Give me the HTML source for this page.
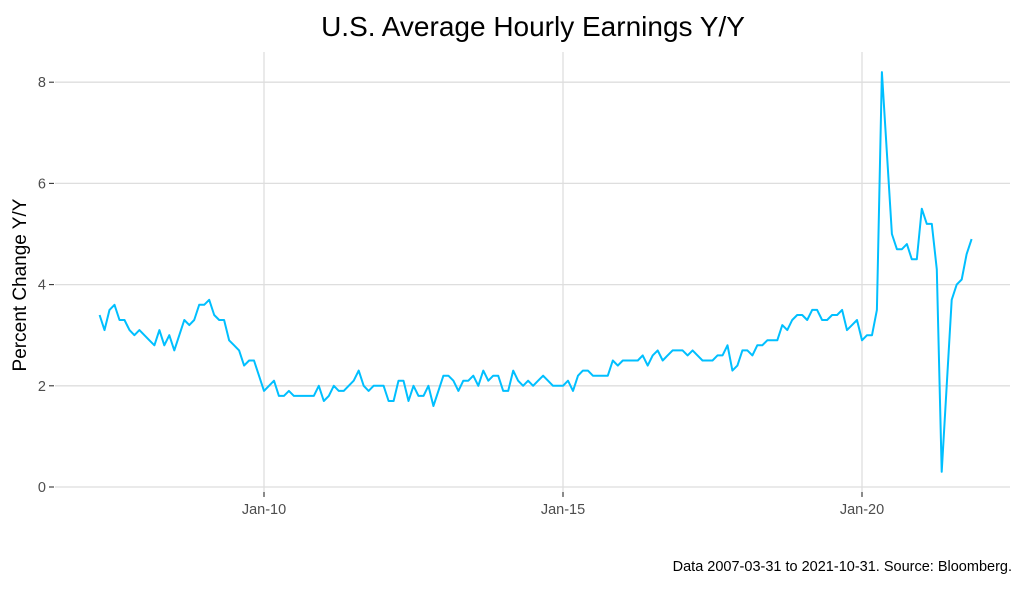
<!DOCTYPE html>
<html><head><meta charset="utf-8"><style>
body{margin:0;background:#fff;font-family:"Liberation Sans",sans-serif;}
svg text{font-family:"Liberation Sans",sans-serif;}
</style></head><body>
<svg id="chart" width="1024" height="585" xmlns="http://www.w3.org/2000/svg">
<text x="533" y="36" text-anchor="middle" font-size="28" fill="#000">U.S. Average Hourly Earnings Y/Y</text>
<text transform="translate(26,285) rotate(-90)" text-anchor="middle" font-size="19" fill="#000">Percent Change Y/Y</text>
<text x="1012" y="571" text-anchor="end" font-size="14.5" fill="#000">Data 2007-03-31 to 2021-10-31.  Source: Bloomberg.</text>
<g id="grid"></g><g id="axes"></g><g id="series"></g>
</svg>
<script>
const startYear = 2007.25;
const values = [3.4,3.1,3.5,3.6,3.3,3.3,3.1,3.0,3.1,3.0,2.9,2.8,3.1,2.8,3.0,2.7,3.0,3.3,3.2,3.3,3.6,3.6,3.7,3.4,3.3,3.3,2.9,2.8,2.7,2.4,2.5,2.5,2.2,1.9,2.0,2.1,1.8,1.8,1.9,1.8,1.8,1.8,1.8,1.8,2.0,1.7,1.8,2.0,
1.9,1.9,2.0,2.1,2.3,2.0,1.9,2.0,2.0,2.0,1.7,1.7,2.1,2.1,1.7,2.0,1.8,1.8,2.0,1.6,1.9,2.2,2.2,2.1,1.9,2.1,2.1,2.2,2.0,2.3,2.1,2.2,2.2,1.9,1.9,2.3,2.1,2.0,2.1,2.0,2.1,2.2,2.1,2.0,2.0,2.0,2.1,1.9,2.2,2.3,2.3,2.2,2.2,
2.2,2.2,2.5,2.4,2.5,2.5,2.5,2.5,2.6,2.4,2.6,2.7,2.5,2.6,2.7,2.7,2.7,2.6,2.7,2.6,2.5,2.5,2.5,2.6,2.6,2.8,2.3,2.4,2.7,2.7,2.6,2.8,2.8,2.9,2.9,2.9,3.2,3.1,3.3,3.4,3.4,3.3,3.5,3.5,3.3,3.3,3.4,3.4,3.5,3.1,3.2,3.3,2.9,3.0,
3.0,3.5,8.2,6.6,5.0,4.7,4.7,4.8,4.5,4.5,5.5,5.2,5.2,4.3,0.3,2.0,3.7,4.0,4.1,4.6,4.9];
const yTicks = [0,2,4,6,8];
const xTickYears = [2010,2015,2020];
const xTickLabels = ["Jan-10","Jan-15","Jan-20"];

const NS="http://www.w3.org/2000/svg";
const X = yr => 264 + (yr-2010)*59.8;
const Y = v => 487 - v*50.6;
const L=55, R=1010, T=52, B=508;
function mk(tag, attrs, parent){const e=document.createElementNS(NS,tag);for(const k in attrs)e.setAttribute(k,attrs[k]);document.getElementById(parent).appendChild(e);return e;}
yTicks.forEach(v=>{
  const g=mk('line',{x1:L,x2:R,y1:Y(v),y2:Y(v),stroke:'#dedede','stroke-width':1.3},'grid');
  
  
  const t=mk('line',{x1:49,x2:54,y1:Y(v),y2:Y(v),stroke:'#333','stroke-width':1.1},'axes');
  
  
  const tx=mk('text',{x:46,y:Y(v)+5,'text-anchor':'end','font-size':14.5,fill:'#4d4d4d'},'axes');
  tx.textContent=v;
  
  
});
xTickYears.forEach((yr,i)=>{
  const g=mk('line',{x1:X(yr),x2:X(yr),y1:T,y2:B-12,stroke:'#dedede','stroke-width':1.3},'grid');
  
  
  const t=mk('line',{x1:X(yr),x2:X(yr),y1:492,y2:497,stroke:'#333','stroke-width':1.1},'axes');
  
  
  const tx=mk('text',{x:X(yr),y:514,'text-anchor':'middle','font-size':14.5,fill:'#4d4d4d'},'axes');
  tx.textContent=xTickLabels[i];
  
  
});
const pts=values.map((v,i)=>X(startYear+i/12).toFixed(1)+','+Y(v).toFixed(1)).join(' ');
const line=mk('polyline',{points:pts,fill:'none',stroke:'#00BFFF','stroke-width':2,'stroke-linejoin':'round'},'series');


</script>
</body></html>
